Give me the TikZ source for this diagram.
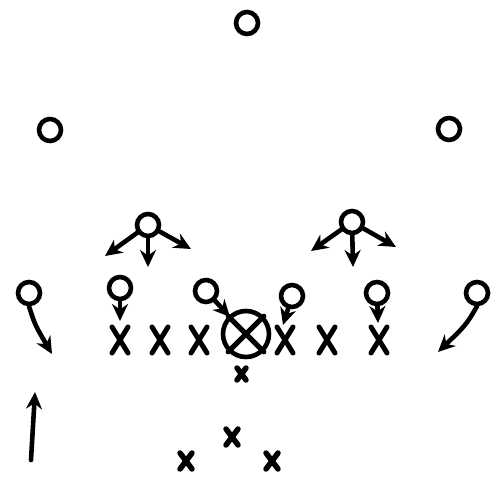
\documentclass[tikz,border=0pt]{standalone}
\usetikzlibrary{arrows.meta}
\begin{document}
\begin{tikzpicture}[x=1pt,y=-1pt,line width=4.6pt,line cap=round,
  pl/.style={draw,circle,minimum size=22pt,inner sep=0pt,line width=4.6pt},
  mv/.style={-{Stealth[length=17pt,width=16pt]}},
  bigx/.style={line width=5pt},
  smx/.style={line width=5.5pt}]
\useasboundingbox (0,0) rectangle (500,486);
% deep defenders
\node[pl] (s) at (247,23) {};
\node[pl] (cl) at (50,130) {};
\node[pl] (cr) at (449,129) {};
% linebackers
\node[pl] (lb1) at (148,225) {};
\node[pl] (lb2) at (352,222) {};
\coordinate (a1) at (105,256); \coordinate (a2) at (148,267); \coordinate (a3) at (191,249);
\draw[mv] (lb1) -- (a1); \draw[mv] (lb1) -- (a2); \draw[mv] (lb1) -- (a3);
\coordinate (b1) at (311,251); \coordinate (b2) at (353,267); \coordinate (b3) at (396,247);
\draw[mv] (lb2) -- (b1); \draw[mv] (lb2) -- (b2); \draw[mv] (lb2) -- (b3);
% linemen defenders
\node[pl] (d1) at (29,293) {};
\node[pl] (d2) at (120,288) {};
\node[pl] (d3) at (206,291) {};
\node[pl] (d4) at (292,296) {};
\node[pl] (d5) at (377,293) {};
\node[pl] (d6) at (477,293) {};
\coordinate (e1) at (52,354);
\draw[mv] (d1.south) .. controls (35,325) .. (e1);
\coordinate (e2) at (120,321);
\draw[mv] (d2) -- (e2);
\coordinate (e3) at (230,317);
\draw[mv] (d3) -- (e3);
\coordinate (e4) at (283,325);
\draw[mv] (d4) -- (e4);
\coordinate (e5) at (378,323);
\draw[mv] (d5) -- (e5);
\coordinate (e6) at (438,352);
\draw[mv] (d6.south) .. controls (466,325) .. (e6);
% offense line X's
\foreach \x in {120,160,199,285,327,379}{
  \draw[bigx] (\x-8,327) -- (\x+8,353);
  \draw[bigx] (\x+8,327) -- (\x-8,353);
}
% center
\node[pl,minimum size=46pt] (c) at (246,334) {};
\draw[bigx] (c.north west) -- (c.south east);
\draw[bigx] (c.north east) -- (c.south west);
% quarterback small x
\draw[smx] (237,368) -- (246,380);
\draw[smx] (246,368) -- (237,380);
% backs
\foreach \x/\y in {186/461,232/437,272/461}{
  \draw[smx] (\x-6,\y-8) -- (\x+6,\y+8);
  \draw[smx] (\x+6,\y-8) -- (\x-6,\y+8);
}
% motion arrow
\coordinate (m0) at (31,460); \coordinate (m1) at (35,392);
\draw[mv] (m0) -- (m1);
\end{tikzpicture}
\end{document}
